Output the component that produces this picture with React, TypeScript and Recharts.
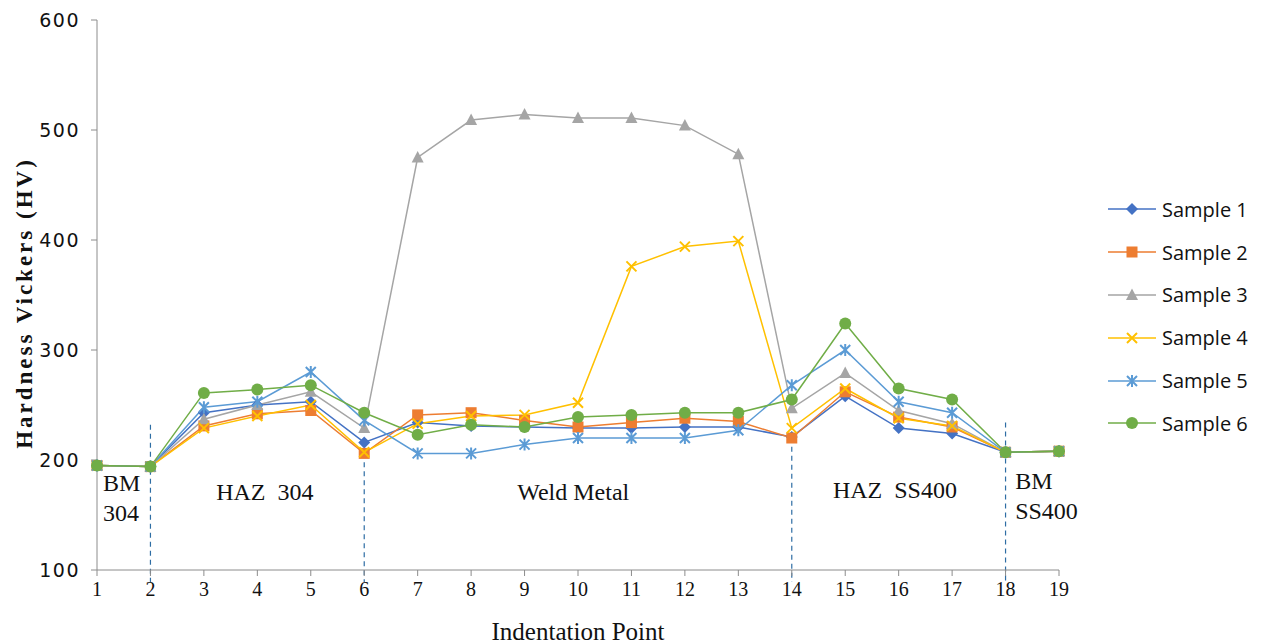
import React from 'react';
import {
  LineChart, Line, XAxis, YAxis, ReferenceLine, ReferenceDot,
} from 'recharts';

const points = [1, 2, 3, 4, 5, 6, 7, 8, 9, 10, 11, 12, 13, 14, 15, 16, 17, 18, 19];
const sample1 = [195, 194, 243, 250, 253, 216, 234, 231, 230, 229, 229, 230, 230, 221, 258, 229, 224, 207, 208];
const sample2 = [195, 194, 231, 242, 245, 206, 241, 243, 236, 230, 234, 238, 235, 220, 262, 239, 230, 207, 208];
const sample3 = [195, 194, 237, 250, 262, 229, 475, 509, 514, 511, 511, 504, 478, 247, 279, 245, 233, 207, 208];
const sample4 = [195, 194, 229, 240, 250, 207, 233, 240, 241, 252, 376, 394, 399, 229, 265, 238, 231, 207, 208];
const sample5 = [195, 194, 248, 253, 280, 236, 206, 206, 214, 220, 220, 220, 227, 268, 300, 253, 243, 207, 208];
const sample6 = [195, 194, 261, 264, 268, 243, 223, 232, 230, 239, 241, 243, 243, 255, 324, 265, 255, 207, 208];
const yTicks = [100, 200, 300, 400, 500, 600];

// zone boundaries (dashed) and the hardness where each dash starts
const zoneBounds = [2, 6, 14, 18];
const zoneTops = [232, 198, 212, 234];

const zoneLabels = [
  { x: 1.11, y: 179, lines: ['BM', '304'], anchor: 'start' },
  { x: 4.14, y: 171, lines: ['HAZ  304'], anchor: 'middle' },
  { x: 9.91, y: 171, lines: ['Weld Metal'], anchor: 'middle' },
  { x: 15.93, y: 173, lines: ['HAZ  SS400'], anchor: 'middle' },
  { x: 18.18, y: 181, lines: ['BM', 'SS400'], anchor: 'start' },
];

const series = [
  { key: 's1', name: 'Sample 1', values: sample1, color: '#4472C4', marker: 'diamond' },
  { key: 's2', name: 'Sample 2', values: sample2, color: '#ED7D31', marker: 'square' },
  { key: 's3', name: 'Sample 3', values: sample3, color: '#A5A5A5', marker: 'triangle' },
  { key: 's4', name: 'Sample 4', values: sample4, color: '#FFC000', marker: 'x' },
  { key: 's5', name: 'Sample 5', values: sample5, color: '#5B9BD5', marker: 'star' },
  { key: 's6', name: 'Sample 6', values: sample6, color: '#70AD47', marker: 'circle' },
];

const data = points.map((p, i) => {
  const row: any = { point: p };
  series.forEach((s) => { row[s.key] = s.values[i]; });
  return row;
});

const serif = '"Liberation Serif", "Times New Roman", serif';

function Marker({ kind, color, cx, cy }: any) {
  if (cx == null || cy == null) return null;
  switch (kind) {
    case 'diamond':
      return <path d={`M${cx},${cy - 6}L${cx + 6},${cy}L${cx},${cy + 6}L${cx - 6},${cy}Z`} fill={color} />;
    case 'square':
      return <rect x={cx - 5.5} y={cy - 5.5} width={11} height={11} fill={color} />;
    case 'triangle':
      return <path d={`M${cx},${cy - 6.5}L${cx + 6},${cy + 5}L${cx - 6},${cy + 5}Z`} fill={color} />;
    case 'x':
      return (
        <path d={`M${cx - 5},${cy - 5}L${cx + 5},${cy + 5}M${cx - 5},${cy + 5}L${cx + 5},${cy - 5}`}
          stroke={color} strokeWidth={2} />
      );
    case 'star':
      return (
        <path d={`M${cx - 5},${cy - 5}L${cx + 5},${cy + 5}M${cx - 5},${cy + 5}L${cx + 5},${cy - 5}M${cx},${cy - 6}L${cx},${cy + 6}`}
          stroke={color} strokeWidth={2} />
      );
    default:
      return <circle cx={cx} cy={cy} r={6} fill={color} />;
  }
}

const makeDot = (kind: string, color: string) => (props: any) => (
  <Marker key={`${kind}-${props.index}`} kind={kind} color={color} cx={props.cx} cy={props.cy} />
);

const ZoneText = ({ cx, cy, lines, anchor }: any) => (
  <text x={cx} y={cy} textAnchor={anchor} fontFamily={serif} fontSize={24} fill="#111">
    {lines.map((l: string, i: number) => (
      <tspan key={i} x={cx} dy={i === 0 ? 8 : 30} style={{ whiteSpace: 'pre' }}>{l}</tspan>
    ))}
  </text>
);

const LegendBox = () => (
  <div style={{ position: 'absolute', left: 1106, top: 188 }}>
    {series.map((s) => (
      <div key={s.key} style={{ display: 'flex', alignItems: 'center', height: 42.8 }}>
        <svg width={52} height={20}>
          <line x1={2} y1={10} x2={50} y2={10} stroke={s.color} strokeWidth={1.5} />
          <Marker kind={s.marker} color={s.color} cx={26} cy={10} />
        </svg>
        <span style={{ fontFamily: '"Open Sans", sans-serif', fontSize: 20, color: '#111', marginLeft: 4 }}>
          {s.name}
        </span>
      </div>
    ))}
  </div>
);

export default function App() {
  return (
    <div style={{ position: 'absolute', left: 0, top: 0, width: 1268, height: 644, background: '#fff' }}>
      <LineChart width={1268} height={644} data={data} margin={{ top: 20, right: 209, bottom: 0, left: 0 }}>
        <XAxis
          type="number"
          dataKey="point"
          domain={[1, 19]}
          ticks={points}
          interval={0}
          height={74}
          tickSize={6}
          tickMargin={6}
          axisLine={{ stroke: '#8c8c8c' }}
          tickLine={{ stroke: '#8c8c8c' }}
          tick={{ fontFamily: serif, fontSize: 20, fill: '#111' }}
          label={(props: any) => {
            const vb = props.viewBox;
            return (
              <text x={vb.x + vb.width / 2} y={640} textAnchor="middle" fontFamily={serif} fontSize={25} fill="#111">
                Indentation Point
              </text>
            );
          }}
        />
        <YAxis
          type="number"
          domain={[100, 600]}
          ticks={yTicks}
          width={97}
          tickSize={6}
          tickMargin={11}
          axisLine={{ stroke: '#8c8c8c' }}
          tickLine={{ stroke: '#8c8c8c' }}
          tick={{ fontFamily: '"DejaVu Sans", sans-serif', fontSize: 19, fill: '#111', letterSpacing: 1.5 }}
          label={(props: any) => {
            const vb = props.viewBox;
            const cy = vb.y + vb.height / 2 + 8;
            return (
              <text x={24} y={cy} transform={`rotate(-90 24 ${cy})`} textAnchor="middle" dominantBaseline="central"
                fontFamily={serif} fontSize={23} fontWeight="bold" letterSpacing={3} fill="#111">
                Hardness Vickers (HV)
              </text>
            );
          }}
        />
        {zoneBounds.map((b, i) => (
          <ReferenceLine
            key={`zb-${b}`}
            segment={[{ x: b, y: zoneTops[i] }, { x: b, y: 89 }]}
            ifOverflow="visible"
            stroke="#2E6DA4"
            strokeDasharray="5 4"
            strokeWidth={1.2}
          />
        ))}
        {zoneLabels.map((z, i) => (
          <ReferenceDot
            key={`zl-${i}`}
            x={z.x}
            y={z.y}
            r={0}
            ifOverflow="visible"
            shape={(p: any) => <ZoneText cx={p.cx} cy={p.cy} lines={z.lines} anchor={z.anchor} />}
          />
        ))}
        {series.map((s) => (
          <Line
            key={s.key}
            dataKey={s.key}
            name={s.name}
            type="linear"
            stroke={s.color}
            strokeWidth={1.5}
            dot={makeDot(s.marker, s.color)}
            activeDot={false}
            isAnimationActive={false}
          />
        ))}
      </LineChart>
      <LegendBox />
    </div>
  );
}
